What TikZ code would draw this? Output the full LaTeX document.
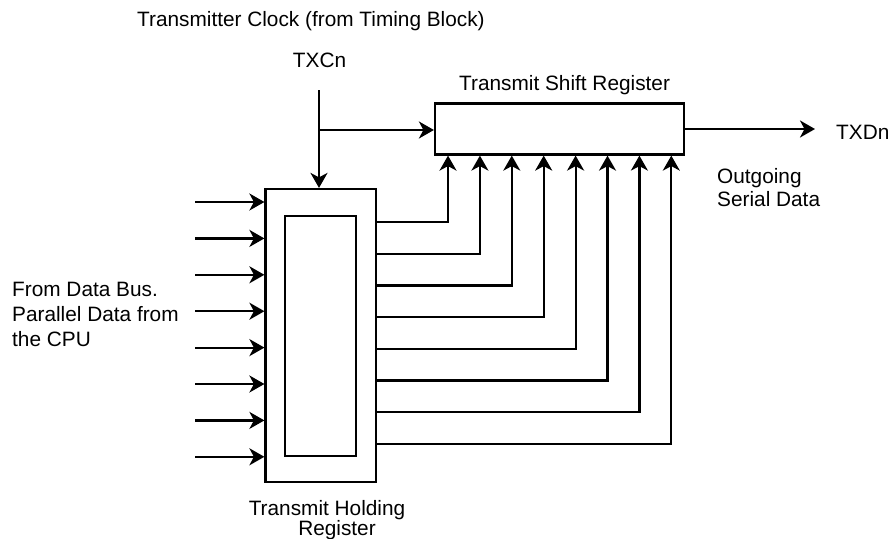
\documentclass[tikz,border=0pt]{standalone}
\usepackage{fontspec}
\setmainfont{Liberation Sans}
\usetikzlibrary{arrows.meta}

\begin{document}
\begin{tikzpicture}[x=1pt, y=-1pt,
    every node/.style={font=\fontsize{20.8}{25}\selectfont},
    reg/.style={draw, line width=2.2pt, inner sep=0pt},
    arr/.style={line width=2.2pt, -{Stealth[length=15pt, width=17pt, inset=4.5pt]}},
    lbl/.style={inner sep=0pt}]

    \useasboundingbox (0,0) rectangle (893,538);

    \def\inA{202}   % first parallel input
    \def\inD{36.4}  % spacing of parallel inputs
    \def\outA{222}  % first holding register output
    \def\outD{31.7} % spacing of outputs
    \def\colA{448}  % first shift register input column
    \def\colD{31.9} % spacing of columns

    % --- Registers ---
    \node[reg, minimum width=249pt, minimum height=51pt] (shift) at (559.5,129) {};
    \node[reg, minimum width=110.5pt, minimum height=293pt] (hold) at (320.75,335.5) {};
    \node[reg, minimum width=71pt, minimum height=240pt] (holdin) at (320.5,336) {};

    % --- Clock ---
    \coordinate (clk) at (319,90);
    \coordinate (tap) at (319,130);
    \draw[arr] (clk) -- (clk |- hold.north);
    \draw[arr] (tap) -- (tap -| shift.west);

    % --- Serial output ---
    \coordinate (txd) at (815,129);
    \draw[arr] (shift.east) -- (txd);

    % --- Parallel inputs ---
    \foreach \i in {1,...,8} {
        \coordinate (in\i) at (195,{\inA+(\i-1)*\inD});
        \draw[arr] (in\i) -- (in\i -| hold.west);
    }

    % --- Holding register to shift register ---
    \foreach \i in {1,...,8} {
        \coordinate (bend\i) at ({\colA+(\i-1)*\colD},{\outA+(\i-1)*\outD});
        \draw[arr] (bend\i -| hold.east) -- (bend\i) -- (bend\i |- shift.south);
    }

    % --- Labels ---
    \node[lbl, anchor=base west] (clktxt) at (137,27) {Transmitter Clock (from Timing Block)};
    \node[lbl, anchor=base] (txc) at (319.5,67) {TXCn};
    \node[lbl, anchor=base west] (shifttxt) at (459,90) {Transmit Shift Register};
    \node[lbl, anchor=base west] (txdtxt) at (836,139) {TXDn};
    \node[lbl, anchor=north west, align=left,
          font=\fontsize{20.8}{23}\selectfont] (serial) at (717,168)
          {Outgoing\\Serial Data};
    \node[lbl, anchor=north west, align=left] (bus) at (12,282)
          {From Data Bus.\\Parallel Data from\\the CPU};
    \node[lbl, anchor=north, align=center,
          font=\fontsize{20.8}{20}\selectfont] (holdtxt) at (327,500)
          {Transmit Holding\\\hspace*{20pt}Register};

\end{tikzpicture}
\end{document}
